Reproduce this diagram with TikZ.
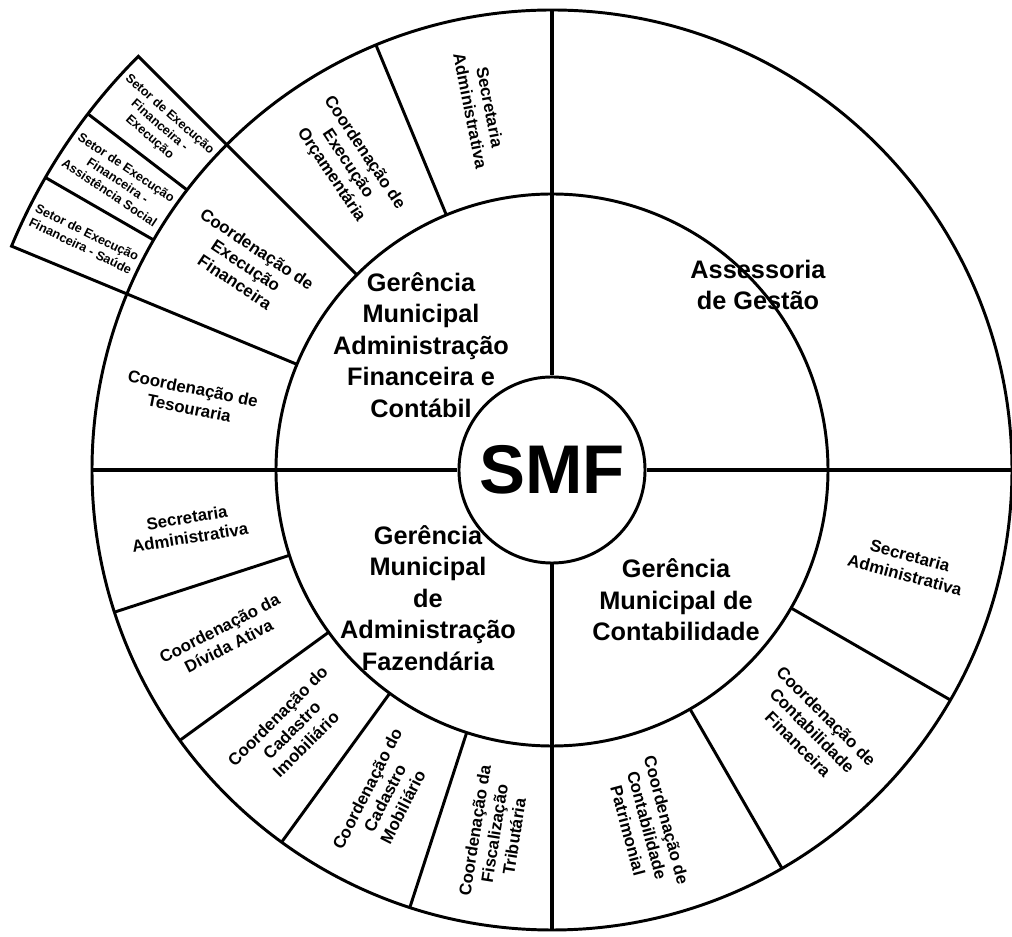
\documentclass[tikz,border=0pt]{standalone}
\usepackage{fontspec}
\setmainfont{Liberation Sans}
\usepackage{tikz}
\tikzstyle{ring} = [line width=2.1pt]
\tikzstyle{axis} = [line width=2.8pt]
\tikzstyle{divider} = [line width=2.1pt]
\tikzstyle{hub} = [circle, draw=black, line width=2.1pt, fill=white, minimum size=4.65cm, inner sep=0pt, font=\fontsize{49}{49}\selectfont\bfseries]
\tikzstyle{gerencia} = [align=center, font=\fontsize{18}{22.5}\selectfont\bfseries]
\tikzstyle{celltext} = [align=center, font=\fontsize{12}{14.2}\selectfont\bfseries]
\tikzstyle{setortext} = [align=center, font=\fontsize{9}{10.8}\selectfont\bfseries]

\begin{document}
\begin{tikzpicture}[x=0.025cm, y=0.025cm]

\useasboundingbox (-552,-467) rectangle (460,470);

\draw [ring] (0,0) circle (460);
\draw [ring] (0,0) circle (276);

\draw [divider] (135:460) -- (135:585) arc[start angle=135, end angle=157.5, radius=585] -- (157.5:460);
\draw [divider] (142.5:460) -- (142.5:585);
\draw [divider] (150:460) -- (150:585);

\foreach \a in {112.5, 135, 157.5, 198, 216, 234, 252, 300, 330}
  \draw [divider] (\a:276) -- (\a:460);

\node (smf) [hub] at (0,0) {SMF};

\draw [axis] (smf.north) -- (90:460);
\draw [axis] (smf.south) -- (270:460);
\draw [axis] (smf.west) -- (180:460);
\draw [axis] (smf.east) -- (0:460);

\node (admfin) [gerencia] at (-131,125) {Gerência\\Municipal\\Administração\\Financeira e\\Contábil};
\node (admfaz) [gerencia] at (-124,-128) {Gerência\\Municipal\\de\\Administração\\Fazendária};
\node (contab) [gerencia] at (124,-130) {Gerência\\Municipal de\\Contabilidade};
\node (assessoria) [gerencia] at (206,185) {Assessoria\\de Gestão};

\node (secfin) [celltext, rotate=-78.75] at (101.25:368) {Secretaria\\Administrativa};
\node (orcamento) [celltext, rotate=-56.25] at (123.75:368) {Coordenação de\\Execução\\Orçamentária};
\node (financeira) [celltext, rotate=-33.75] at (146.25:368) {Coordenação de\\Execução\\Financeira};
\node (tesouraria) [celltext, rotate=-11.25] at (168.75:368) {Coordenação de\\Tesouraria};

\node (setexec) [setortext, rotate=-41.25] at (138.75:522) {Setor de Execução\\Financeira -\\Execução};
\node (setsocial) [setortext, rotate=-33.75] at (146.25:522) {Setor de Execução\\Financeira -\\Assistência Social};
\node (setsaude) [setortext, rotate=-26.25] at (153.75:522) {Setor de Execução\\Financeira - Saúde};

\node (secfaz) [celltext, rotate=9] at (189:368) {Secretaria\\Administrativa};
\node (divida) [celltext, rotate=27] at (207:368) {Coordenação da\\Dívida Ativa};
\node (imob) [celltext, rotate=45] at (225:368) {Coordenação do\\Cadastro\\Imobiliário};
\node (mob) [celltext, rotate=63] at (243:368) {Coordenação do\\Cadastro\\Mobiliário};
\node (fisc) [celltext, rotate=81] at (261:368) {Coordenação da\\Fiscalização\\Tributária};

\node (patrimonial) [celltext, rotate=-75] at (285:368) {Coordenação de\\Contabilidade\\Patrimonial};
\node (contfin) [celltext, rotate=-45] at (315:368) {Coordenação de\\Contabilidade\\Financeira};
\node (seccont) [celltext, rotate=-15] at (345:368) {Secretaria\\Administrativa};

\end{tikzpicture}
\end{document}
